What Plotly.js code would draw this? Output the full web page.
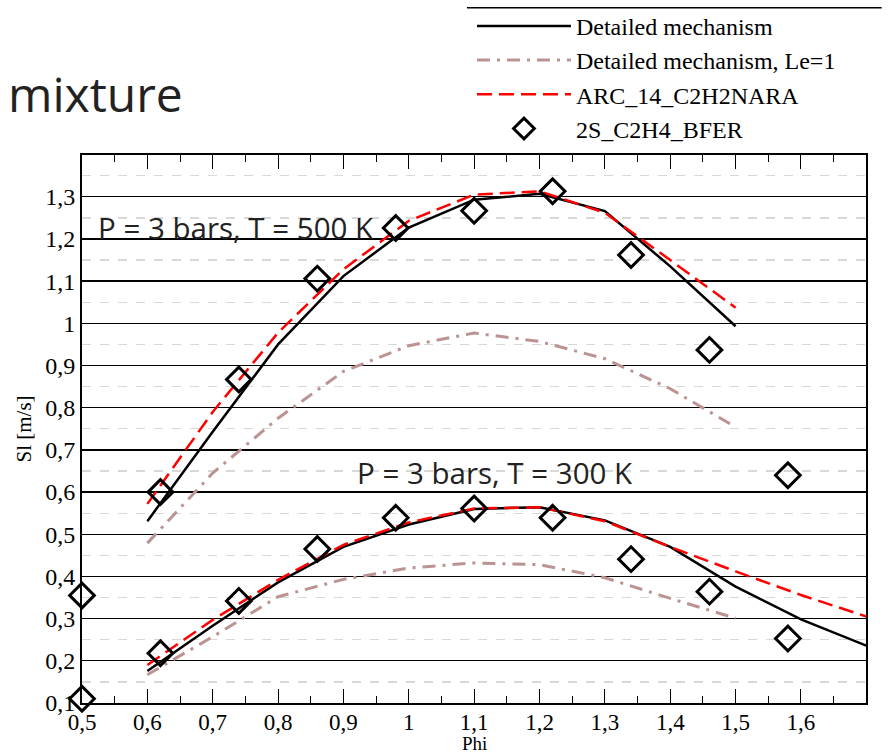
<!DOCTYPE html>
<html>
<head>
<meta charset="utf-8">
<script src="https://cdn.plot.ly/plotly-3.0.1.min.js"></script>
<style>html,body{margin:0;padding:0;background:#fff;}#chart{width:892px;height:755px;}</style>
</head>
<body>
<div id="chart"></div>
<script>
// Phi values of the computed curves
const phiLines500 = [0.6, 0.7, 0.8, 0.9, 1.0, 1.1, 1.2, 1.3, 1.4, 1.5];
const phiLines300 = [0.6, 0.7, 0.8, 0.9, 1.0, 1.1, 1.2, 1.3, 1.4, 1.5, 1.6, 1.7];
const phiLe300 = [0.6, 0.7, 0.8, 0.9, 1.0, 1.1, 1.2, 1.3, 1.4, 1.5];

// T = 500 K
const detailed500 = [0.531, 0.743, 0.950, 1.112, 1.227, 1.293, 1.307, 1.266, 1.135, 0.993];
const le1_500     = [0.479, 0.645, 0.775, 0.886, 0.947, 0.977, 0.957, 0.916, 0.845, 0.754];
const arc500      = [0.572, 0.790, 0.978, 1.128, 1.243, 1.305, 1.313, 1.262, 1.150, 1.037];

// T = 300 K
const detailed300 = [0.176, 0.283, 0.386, 0.470, 0.523, 0.560, 0.564, 0.533, 0.470, 0.376, 0.298, 0.236];
const le1_300     = [0.167, 0.257, 0.352, 0.393, 0.420, 0.432, 0.428, 0.397, 0.348, 0.301];
const arc300      = [0.190, 0.297, 0.392, 0.475, 0.528, 0.561, 0.564, 0.531, 0.470, 0.412, 0.356, 0.305];

// 2S_C2H4_BFER points
const phiPts = [0.5, 0.62, 0.74, 0.86, 0.98, 1.10, 1.22, 1.34, 1.46, 1.58];
const bfer500 = [0.355, 0.600, 0.867, 1.106, 1.226, 1.267, 1.313, 1.162, 0.937, 0.640];
const bfer300 = [0.110, 0.218, 0.342, 0.465, 0.539, 0.561, 0.539, 0.441, 0.364, 0.253];

const names = ["Detailed mechanism", "Detailed mechanism, Le=1", "ARC_14_C2H2NARA", "2S_C2H4_BFER"];
const annTexts = ["P = 3 bars, T = 500 K", "P = 3 bars, T = 300 K"];
const xTitle = "Phi";
const yTitle = "Sl [m/s]";

const blackLine = {color: "#000", width: 2.5};
const pinkLine = {color: "#bc9393", width: 3, dash: "13px,7px,3px,7px"};
const redLine = {color: "#ff0000", width: 2.5, dash: "15px,7px"};
const mk = {symbol: "diamond-open", size: 19, color: "#000", line: {width: 3, color: "#000"}};

const traces = [
  {x: phiLines500, y: detailed500, mode: "lines", line: blackLine, name: names[0], legendgroup: "a"},
  {x: phiLines300, y: detailed300, mode: "lines", line: blackLine, name: names[0], legendgroup: "a", showlegend: false},
  {x: phiLines500, y: le1_500, mode: "lines", line: pinkLine, name: names[1], legendgroup: "b"},
  {x: phiLe300, y: le1_300, mode: "lines", line: pinkLine, name: names[1], legendgroup: "b", showlegend: false},
  {x: phiLines500, y: arc500, mode: "lines", line: redLine, name: names[2], legendgroup: "c"},
  {x: phiLines300, y: arc300, mode: "lines", line: redLine, name: names[2], legendgroup: "c", showlegend: false},
  {x: phiPts, y: bfer500, mode: "markers", marker: mk, name: names[3], legendgroup: "d", cliponaxis: false},
  {x: phiPts, y: bfer300, mode: "markers", marker: mk, name: names[3], legendgroup: "d", showlegend: false, cliponaxis: false}
];

const serif = "Liberation Serif";
const sans = "Open Sans";

const layout = {
  width: 892, height: 755,
  margin: {l: 82, r: 26, t: 155, b: 52},
  paper_bgcolor: "#fff", plot_bgcolor: "#fff",
  separators: ", ",
  font: {family: serif, size: 20, color: "#000"},
  showlegend: true,
  legend: {
    xref: "paper", yref: "container",
    x: 0.4974, xanchor: "left", y: 0.995, yanchor: "top",
    font: {family: serif, size: 24, color: "#000"},
    bgcolor: "rgba(0,0,0,0)", tracegroupgap: 0, itemwidth: 94
  },
  xaxis: {
    range: [0.5, 1.6995], dtick: 0.1, tick0: 0.5,
    showgrid: false, zeroline: false, automargin: false,
    showline: true, linecolor: "#000", linewidth: 2, mirror: "ticks",
    ticks: "inside", ticklen: 14, tickwidth: 1, tickcolor: "#000",
    minor: {dtick: 0.05, ticks: "inside", ticklen: 7, tickcolor: "#000", showgrid: false},
    tickfont: {family: serif, size: 23}, ticklabelstandoff: -3
  },
  yaxis: {
    range: [0.1, 1.399], dtick: 0.1, tick0: 0.1,
    showgrid: true, gridcolor: "#000", gridwidth: 1.3,
    zeroline: false, automargin: false,
    showline: true, linecolor: "#000", linewidth: 2, mirror: true,
    ticks: "",
    minor: {dtick: 0.05, tick0: 0.05, showgrid: true, gridcolor: "#d8d8d8", griddash: "dash", gridwidth: 1.3},
    tickfont: {family: serif, size: 24},
    title: {text: yTitle, font: {family: serif, size: 21}, standoff: 8}
  },
  shapes: [
    {type: "line", xref: "paper", yref: "paper", x0: 0.491, x1: 1.02, y0: 1.2685, y1: 1.2685,
     line: {color: "#000", width: 1.5}}
  ],
  annotations: [
    {xref: "paper", yref: "paper", x: -0.097, y: 1.113, xanchor: "left", yanchor: "middle",
     text: "mixture", showarrow: false, font: {family: sans, size: 48, color: "#222"}},
    {xref: "x", yref: "y", x: 0.522, y: 1.228, xanchor: "left", yanchor: "middle",
     text: annTexts[0], showarrow: false, font: {family: sans, size: 29.5, color: "#222"}},
    {xref: "x", yref: "y", x: 0.918, y: 0.646, xanchor: "left", yanchor: "middle",
     text: annTexts[1], showarrow: false, font: {family: sans, size: 29.5, color: "#222"}},
    {xref: "paper", yref: "paper", x: 0.5, y: -0.073, xanchor: "center", yanchor: "middle",
     text: xTitle, showarrow: false, font: {family: serif, size: 19, color: "#000"}}
  ]
};

Plotly.newPlot("chart", traces, layout, {displayModeBar: false, staticPlot: true});
</script>
</body>
</html>
